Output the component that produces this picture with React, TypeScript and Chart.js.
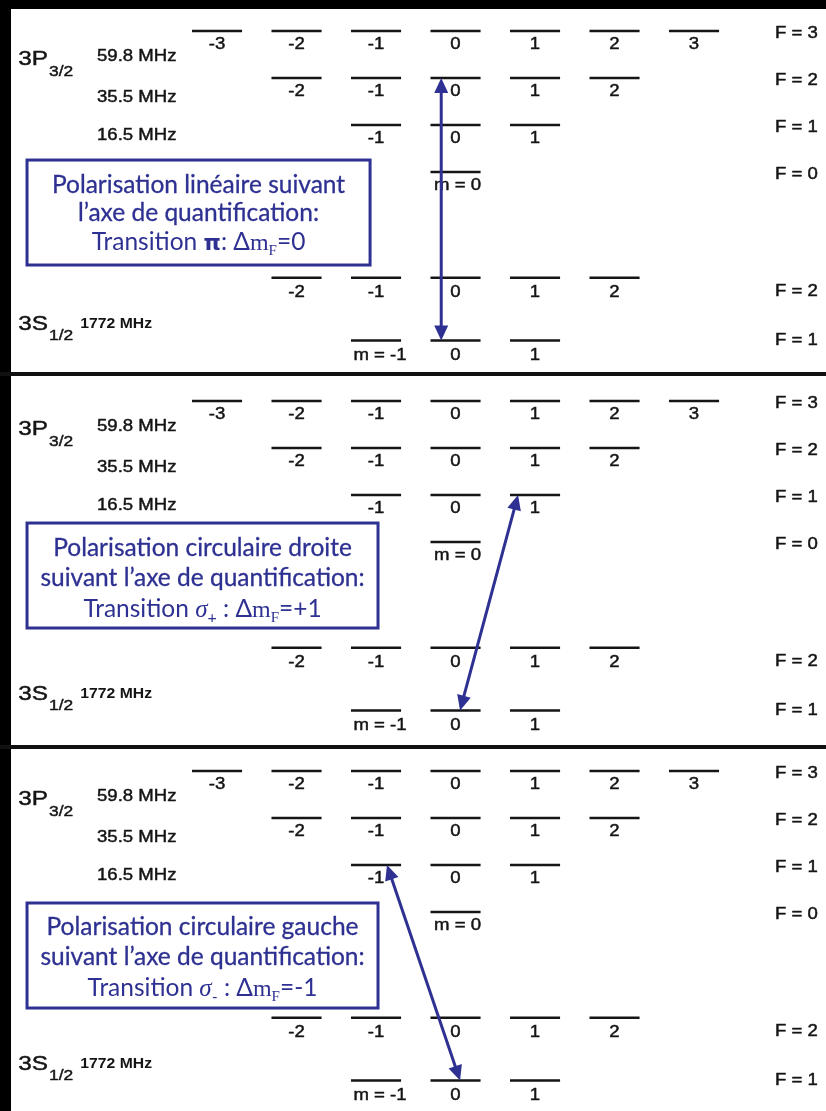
import React, { useEffect, useRef } from "react";
import { Chart, registerables } from "chart.js";

Chart.register(...registerables);

// ---------- data ----------
// 3P3/2 hyperfine levels F' (schematic energy, not to scale)
const upperF = [3, 2, 1, 0];
const upperLevel = [9, 8, 7, 6];
// 3S1/2 hyperfine levels F
const lowerF = [2, 1];
const lowerLevel = [3.75, 2.42];

// splitting labels
const upperSplitLabels = ["59.8 MHz", "35.5 MHz", "16.5 MHz"];
const upperSplitLevel = [8.447, 7.575, 6.767];
const lowerSplitLabels = ["1772 MHz"];
const lowerSplitLevel = [2.78];

// term names
const stateNames = ["3P", "3S"];
const stateSubs = ["3/2", "1/2"];
const stateLevel = [8.394, 2.768];

// transitions (one per panel)
const arrowUpperF = [2, 1, 1];
const arrowUpperM = [-0.18, 0.786, -0.862];
const arrowLowerF = [1, 1, 1];
const arrowLowerM = [-0.18, 0.057, 0.057];

// caption boxes (one per panel)
const boxLine1 = [
  "Polarisation linéaire suivant",
  "Polarisation circulaire droite",
  "Polarisation circulaire gauche",
];
const boxLine2 = [
  "l’axe de quantification:",
  "suivant l’axe de quantification:",
  "suivant l’axe de quantification:",
];
const transSymbol = ["π", "σ", "σ"];
const transSymbolSub = ["", "+", "-"];
const transSep = [": ", " : ", " : "];
const deltaM = ["0", "+1", "-1"];

// ---------- layout / style ----------
const W = 826;
const PANEL_H = 370;
const X_MIN = -5.73;
const X_MAX = 4.66;
const Y_MIN = 1.79;
const Y_MAX = 9.66;
const HALF = 0.315;
const BLUE = "#2e3192";
const INK = "#151515";
const SX = 1.16;
const LABEL_FONT = "16px 'Liberation Sans', Arial, sans-serif";
const SMALL_FONT = "bold 15px 'Liberation Sans', Arial, sans-serif";
const BOX_FONT = "24.5px Lato, 'Open Sans', sans-serif";
const LAYOUT = {
  stateM: -5.5,
  splitM: -4.51,
  lowerSplitM: -4.72,
  fLabelM: 4.02,
  boxLeftM: [-5.39, -5.39, -5.39],
  boxRightM: [-1.075, -0.975, -0.975],
  boxTop: [6.256, 6.405, 6.193],
  boxBottom: [4.023, 4.172, 3.959],
  boxPadTop: [25, 25, 24],
  boxGap: [28, 30, 30],
};

function drawText(
  ctx: CanvasRenderingContext2D,
  text: string,
  x: number,
  y: number,
  font: string,
  align: CanvasTextAlign,
  sx = SX,
  color = INK,
  bold = 0.45
) {
  ctx.save();
  ctx.font = font;
  ctx.fillStyle = color;
  ctx.strokeStyle = color;
  ctx.lineWidth = bold;
  ctx.lineJoin = "round";
  ctx.textBaseline = "middle";
  ctx.textAlign = align;
  ctx.translate(x, y);
  ctx.scale(sx, 1);
  ctx.fillText(text, 0, 0);
  if (bold > 0) ctx.strokeText(text, 0, 0);
  ctx.restore();
}

function arrowHead(ctx: CanvasRenderingContext2D, tx: number, ty: number, ux: number, uy: number) {
  const L = 15;
  const Hw = 7;
  const bx = tx - ux * L;
  const by = ty - uy * L;
  ctx.beginPath();
  ctx.moveTo(tx, ty);
  ctx.lineTo(bx - uy * Hw, by + ux * Hw);
  ctx.lineTo(bx + uy * Hw, by - ux * Hw);
  ctx.closePath();
  ctx.fill();
}

function drawDoubleArrow(ctx: CanvasRenderingContext2D, x1: number, y1: number, x2: number, y2: number) {
  const dx = x2 - x1;
  const dy = y2 - y1;
  const len = Math.hypot(dx, dy);
  const ux = dx / len;
  const uy = dy / len;
  ctx.save();
  ctx.strokeStyle = BLUE;
  ctx.fillStyle = BLUE;
  ctx.lineWidth = 3;
  ctx.beginPath();
  ctx.moveTo(x1 + ux * 10, y1 + uy * 10);
  ctx.lineTo(x2 - ux * 10, y2 - uy * 10);
  ctx.stroke();
  arrowHead(ctx, x2, y2, ux, uy);
  arrowHead(ctx, x1, y1, -ux, -uy);
  ctx.restore();
}

type Run = { t: string; font: string; dy?: number };

function drawRuns(ctx: CanvasRenderingContext2D, runs: Run[], cx: number, cy: number) {
  ctx.save();
  ctx.textBaseline = "alphabetic";
  ctx.fillStyle = BLUE;
  let total = 0;
  const widths = runs.map((r) => {
    ctx.font = r.font;
    const w = ctx.measureText(r.t).width;
    total += w;
    return w;
  });
  let x = cx - total / 2;
  const base = cy + 9;
  runs.forEach((r, i) => {
    ctx.font = r.font;
    ctx.textAlign = "left";
    ctx.fillText(r.t, x, base + (r.dy || 0));
    x += widths[i];
  });
  ctx.restore();
}

function makePlugin(p: number) {
  return {
    id: "diagram" + p,
    afterDatasetsDraw(chart: any) {
      const ctx: CanvasRenderingContext2D = chart.ctx;
      const xs = chart.scales.x;
      const ys = chart.scales.y;

      // sublevel labels + F labels (upper manifold)
      upperF.forEach((F, i) => {
        const py = ys.getPixelForValue(upperLevel[i]);
        const last = i === upperF.length - 1;
        for (let m = -F; m <= F; m++) {
          const label = last && m === -F ? "m = " + m : String(m);
          drawText(ctx, label, xs.getPixelForValue(m) + (last && m === -F ? 2 : 0), py + 14, LABEL_FONT, "center");
        }
        drawText(ctx, "F = " + F, xs.getPixelForValue(LAYOUT.fLabelM), py + 3, LABEL_FONT, "left");
      });
      // lower manifold
      lowerF.forEach((F, i) => {
        const py = ys.getPixelForValue(lowerLevel[i]);
        const last = i === lowerF.length - 1;
        for (let m = -F; m <= F; m++) {
          const label = last && m === -F ? "m = " + m : String(m);
          drawText(ctx, label, xs.getPixelForValue(m) + (last && m === -F ? 4 : 0), py + 15, LABEL_FONT, "center");
        }
        drawText(ctx, "F = " + F, xs.getPixelForValue(LAYOUT.fLabelM), py + (i === 0 ? 14 : 0), LABEL_FONT, "left");
      });

      // splitting labels
      upperSplitLabels.forEach((t, i) => {
        drawText(ctx, t, xs.getPixelForValue(LAYOUT.splitM), ys.getPixelForValue(upperSplitLevel[i]), LABEL_FONT, "left");
      });
      lowerSplitLabels.forEach((t, i) => {
        drawText(ctx, t, xs.getPixelForValue(LAYOUT.lowerSplitM), ys.getPixelForValue(lowerSplitLevel[i]), SMALL_FONT, "left", 1.05, INK, 0);
      });

      // term names with subscripts
      stateNames.forEach((name, i) => {
        const x = xs.getPixelForValue(LAYOUT.stateM);
        const y = ys.getPixelForValue(stateLevel[i]);
        const bigFont = "21px 'Liberation Sans', Arial, sans-serif";
        drawText(ctx, name, x, y, bigFont, "left");
        ctx.save();
        ctx.font = bigFont;
        const w = ctx.measureText(name).width * SX;
        ctx.restore();
        drawText(ctx, stateSubs[i], x + w + 1, y + 12, "15px 'Liberation Sans', Arial, sans-serif", "left");
      });

      // caption box
      const bx0 = xs.getPixelForValue(LAYOUT.boxLeftM[p]);
      const bx1 = xs.getPixelForValue(LAYOUT.boxRightM[p]);
      const by0 = ys.getPixelForValue(LAYOUT.boxTop[p]);
      const by1 = ys.getPixelForValue(LAYOUT.boxBottom[p]);
      ctx.save();
      ctx.fillStyle = "#ffffff";
      ctx.fillRect(bx0, by0, bx1 - bx0, by1 - by0);
      ctx.strokeStyle = BLUE;
      ctx.lineWidth = 3;
      ctx.strokeRect(bx0, by0, bx1 - bx0, by1 - by0);
      ctx.restore();
      const cx = (bx0 + bx1) / 2;
      const ly = by0 + LAYOUT.boxPadTop[p];
      const gap = LAYOUT.boxGap[p];
      drawText(ctx, boxLine1[p], cx, ly, BOX_FONT, "center", 1, BLUE, 0.3);
      drawText(ctx, boxLine2[p], cx, ly + gap, BOX_FONT, "center", 1, BLUE, 0.3);
      const sym = transSymbol[p];
      const runs: Run[] = [{ t: "Transition ", font: BOX_FONT }];
      if (sym === "π") {
        runs.push({ t: sym, font: "bold 22px 'DejaVu Sans', sans-serif" });
      } else {
        runs.push({ t: sym, font: "italic 25px 'Liberation Serif', serif" });
      }
      if (transSymbolSub[p]) runs.push({ t: transSymbolSub[p], font: "16px Lato, sans-serif", dy: 6 });
      runs.push({ t: transSep[p], font: BOX_FONT });
      runs.push({ t: "Δ", font: BOX_FONT });
      runs.push({ t: "m", font: "24px 'Liberation Serif', serif" });
      runs.push({ t: "F", font: "15px 'Liberation Serif', serif", dy: 5 });
      runs.push({ t: "=" + deltaM[p], font: BOX_FONT });
      drawRuns(ctx, runs, cx, ly + 2 * gap);

      // transition arrow
      const ux = xs.getPixelForValue(arrowUpperM[p]);
      const uy = ys.getPixelForValue(upperLevel[upperF.indexOf(arrowUpperF[p])]);
      const lx = xs.getPixelForValue(arrowLowerM[p]);
      const ly2 = ys.getPixelForValue(lowerLevel[lowerF.indexOf(arrowLowerF[p])]);
      drawDoubleArrow(ctx, ux, uy, lx, ly2);
    },
  };
}

function levelDataset(F: number, level: number) {
  const data: { x: number; y: number | null }[] = [];
  for (let m = -F; m <= F; m++) {
    data.push({ x: m - HALF, y: level }, { x: m + HALF, y: level }, { x: m, y: null });
  }
  return {
    data,
    showLine: true,
    spanGaps: false,
    borderColor: INK,
    borderWidth: 2.5,
    pointRadius: 0,
    pointHoverRadius: 0,
    fill: false,
  };
}

function Panel({ index }: { index: number }) {
  const ref = useRef<HTMLCanvasElement | null>(null);
  useEffect(() => {
    if (!ref.current) return;
    const datasets = [
      ...upperF.map((F, i) => levelDataset(F, upperLevel[i])),
      ...lowerF.map((F, i) => levelDataset(F, lowerLevel[i])),
    ];
    const chart = new Chart(ref.current, {
      type: "scatter",
      data: { datasets: datasets as any },
      options: {
        responsive: false,
        animation: false,
        events: [],
        layout: { padding: 0 },
        plugins: { legend: { display: false }, tooltip: { enabled: false } },
        scales: {
          x: { type: "linear", min: X_MIN, max: X_MAX, display: false },
          y: { type: "linear", min: Y_MIN, max: Y_MAX, display: false },
        },
      },
      plugins: [makePlugin(index)],
    });
    return () => chart.destroy();
  }, [index]);
  return (
    <canvas
      ref={ref}
      width={W}
      height={PANEL_H}
      style={{ position: "absolute", left: 0, top: index * PANEL_H, width: W, height: PANEL_H, display: "block" }}
    />
  );
}

export default function App() {
  return (
    <div style={{ position: "absolute", left: 0, top: 0, width: W, height: 1111, background: "#fff", overflow: "hidden" }}>
      {[0, 1, 2].map((p) => (
        <Panel key={p} index={p} />
      ))}
      <div style={{ position: "absolute", left: 0, top: 0, width: W, height: 9, background: "#000" }} />
      <div style={{ position: "absolute", left: 0, top: 0, width: 11, height: 1111, background: "#000" }} />
      <div style={{ position: "absolute", left: 0, top: 372, width: W, height: 4, background: "#111" }} />
      <div style={{ position: "absolute", left: 0, top: 745, width: W, height: 4, background: "#111" }} />
    </div>
  );
}
